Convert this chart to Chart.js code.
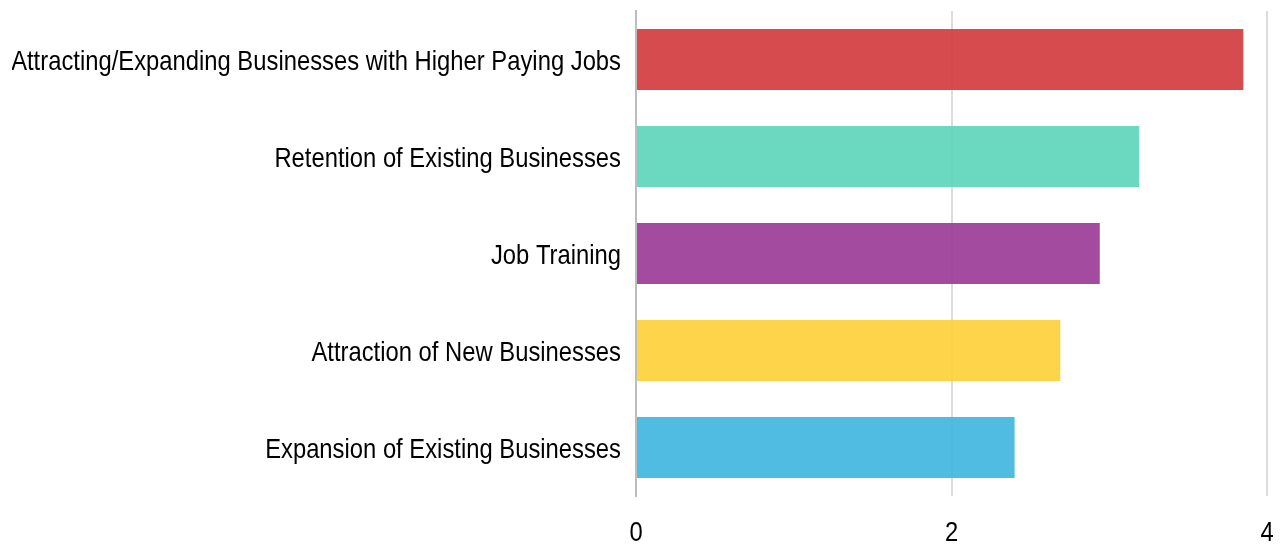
<!DOCTYPE html>
<html>
<head>
<meta charset="utf-8">
<script src="https://cdn.jsdelivr.net/npm/chart.js@4"></script>
<style>
  html, body { margin: 0; padding: 0; background: #fff; }
  #wrap { width: 1284px; height: 548px; }
</style>
</head>
<body>
<div id="wrap"><canvas id="priorityChart"></canvas></div>
<script>
const categories = [
  "Attracting/Expanding Businesses with Higher Paying Jobs",
  "Retention of Existing Businesses",
  "Job Training",
  "Attraction of New Businesses",
  "Expansion of Existing Businesses"
];
const scores = [3.85, 3.19, 2.94, 2.69, 2.40];
const barColors = [
  "rgba(209, 56, 59, 0.9)",
  "rgba(91, 212, 185, 0.9)",
  "rgba(153, 57, 149, 0.9)",
  "rgba(254, 207, 54, 0.9)",
  "rgba(61, 181, 223, 0.9)"
];
const xTicks = [0, 2, 4];

const labelFont = { family: "'Liberation Sans', Arial, sans-serif", size: 28 };
const narrow = 0.85; // the source uses a condensed face, squeeze the labels to match

// draw an axis' labels horizontally squeezed around their anchor point
function condenseLabels(axis, dy) {
  if (axis._condensed) return;
  axis._condensed = true;
  const base = axis.drawLabels.bind(axis);
  axis.drawLabels = area => {
    const c = axis.ctx;
    const fill = c.fillText;
    c.fillText = function (t, x, y) {
      this.save();
      this.translate(x, y + dy);
      this.scale(narrow, 1);
      fill.call(this, t, 0, 0);
      this.restore();
    };
    base(area);
    c.fillText = fill;
  };
}

const ctx = document.getElementById("priorityChart").getContext("2d");
new Chart(ctx, {
  type: "bar",
  data: {
    labels: categories,
    datasets: [{
      data: scores,
      backgroundColor: barColors,
      borderWidth: 0,
      categoryPercentage: 1,
      barPercentage: 0.63
    }]
  },
  options: {
    indexAxis: "y",
    responsive: true,
    maintainAspectRatio: false,
    animation: false,
    layout: { padding: { top: 11, right: 17, left: 12, bottom: 0 } },
    plugins: {
      legend: { display: false },
      tooltip: { enabled: false }
    },
    scales: {
      x: {
        min: 0,
        max: 4,
        afterBuildTicks: axis => { axis.ticks = xTicks.map(v => ({ value: v })); },
        afterFit: axis => {
          axis.paddingLeft = 0; axis.paddingRight = 0; axis.height = 52;
          condenseLabels(axis, 0);
        },
        grid: {
          color: c => c.tick && c.tick.value === 0 ? "#bdbdbd" : "#dcdcdc",
          lineWidth: 2,
          drawTicks: false
        },
        border: { display: false },
        ticks: {
          color: "#000",
          padding: 20,
          font: labelFont
        }
      },
      y: {
        afterFit: axis => {
          axis.paddingTop = 0; axis.paddingBottom = 0; axis.width = 624;
          condenseLabels(axis, 3);
        },
        grid: { display: false },
        border: { display: true, color: "#bdbdbd", width: 2 },
        ticks: {
          color: "#000",
          padding: 7,
          font: labelFont
        }
      }
    }
  }
});
</script>
</body>
</html>
